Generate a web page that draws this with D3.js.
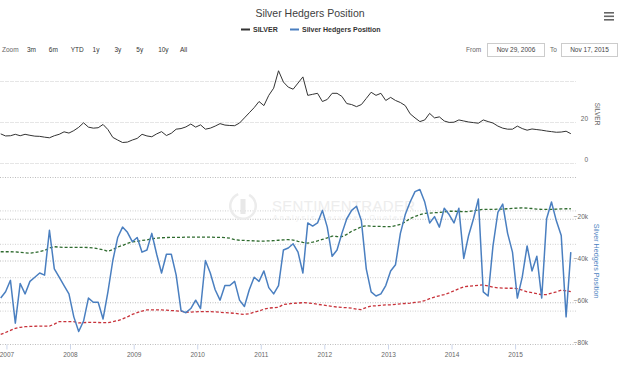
<!DOCTYPE html>
<html><head><meta charset="utf-8">
<script src="https://cdn.jsdelivr.net/npm/d3@7"></script>
<style>
body{margin:0;background:#fff;}
svg{display:block;font-family:"Liberation Sans",Arial,sans-serif;}
</style>
</head><body>
<svg id="c" width="620" height="365"></svg>
<script>
// ---------------- DATA ----------------
const startDate = "2006-11-29";
const endDate = "2015-11-17";
const stepDays = 28;

const silver = [
 14.2,13.2,13.3,14.0,13.3,14.0,13.5,13.1,13.0,12.6,
 12.3,13.3,14.0,15.2,14.6,15.8,17.4,19.6,17.5,17.0,
 17.2,18.8,16.3,12.5,11.2,10.0,10.2,11.2,12.0,14.0,
 13.2,12.8,14.2,15.3,13.4,14.5,16.5,16.8,17.6,19.0,
 17.5,18.6,16.5,17.0,18.0,19.2,18.5,18.3,18.2,19.5,
 22.0,24.5,27.0,30.0,28.0,33.0,36.5,45.0,39.5,37.0,
 36.0,39.0,42.0,33.0,33.5,34.0,30.0,31.0,34.0,34.0,
 32.5,29.0,28.5,27.5,28.5,31.5,34.5,33.0,34.0,30.5,
 32.0,30.5,29.5,28.0,24.0,22.0,20.2,21.0,24.2,22.0,
 22.5,20.5,19.8,19.9,21.0,20.5,20.0,19.7,19.4,21.0,
 20.2,19.5,18.0,17.0,16.5,16.5,18.0,16.8,16.0,16.6,
 16.3,16.0,15.6,15.3,15.0,15.1,15.5,14.3
];

const hedgers = [
 -58,-55,-49.5,-70,-51,-56,-50,-48,-46,-47,
 -25.5,-44,-48,-52,-56,-67,-74,-69,-58,-60,
 -60,-68,-55,-40,-29,-24,-26.5,-31,-29,-36,
 -35,-27,-37,-46,-37,-37,-47,-64,-65,-63,
 -59,-63,-40,-46,-54,-59,-52,-52,-50,-59,
 -62,-54,-48,-50,-45,-53,-56,-52,-35,-34,
 -32,-36,-46,-22,-23.5,-22,-16,-24,-38,-35,
 -27,-20,-16,-14,-21,-44,-55,-57,-56,-52,
 -45,-42,-27,-18,-12,-7,-6,-12,-22,-19,
 -24,-15,-18,-22,-15,-39,-28,-20,-10.5,-55,
 -57,-33,-17,-13,-27,-36,-58,-48,-33,-45,
 -38,-58,-20,-12,-21,-28,-67,-36
];

const upperBand = [
 -35.8,-35.8,-35.8,-35.9,-36.1,-36.3,-36.5,-36.2,-35.7,-35.2,
 -34.0,-33.4,-33.6,-33.7,-33.7,-33.7,-33.7,-33.7,-33.8,-34.0,
 -34.4,-34.8,-35.6,-34.8,-33.5,-32.8,-31.8,-31.1,-30.8,-30.4,
 -30.1,-29.6,-29.3,-29.1,-29.0,-28.9,-28.9,-28.9,-28.8,-28.8,
 -28.8,-28.8,-28.8,-28.8,-28.9,-28.9,-29.0,-29.3,-30.0,-30.3,
 -30.4,-30.5,-30.6,-30.7,-30.7,-30.6,-30.5,-30.3,-30.1,-30.0,
 -30.2,-30.8,-31.3,-31.7,-31.2,-30.6,-29.9,-29.2,-28.3,-28.5,
 -28.6,-27.5,-26.0,-25.0,-23.8,-23.4,-23.6,-23.7,-23.7,-23.8,
 -23.8,-23.3,-22.7,-21.5,-19.9,-18.9,-18.0,-17.4,-17.3,-17.1,
 -17.0,-16.7,-16.4,-16.4,-16.5,-16.6,-16.6,-16.2,-15.8,-15.5,
 -15.5,-15.5,-15.4,-15.4,-15.2,-15.0,-14.9,-14.8,-14.9,-15.1,
 -15.4,-15.5,-15.5,-15.5,-15.4,-15.3,-15.2,-15.2
];

const lowerBand = [
 -75.4,-74.5,-73.5,-72.5,-72.0,-71.7,-71.6,-71.5,-71.4,-71.4,
 -71.4,-70.5,-69.3,-69.3,-69.3,-69.3,-69.9,-69.8,-69.6,-69.6,
 -69.7,-69.8,-69.8,-69.3,-68.8,-68.0,-67.0,-65.8,-65.0,-64.2,
 -63.7,-63.7,-63.7,-63.7,-63.8,-64.0,-64.1,-64.3,-64.8,-64.7,
 -64.6,-64.5,-64.5,-64.5,-64.6,-64.8,-65.0,-65.1,-65.3,-65.6,
 -65.8,-65.5,-64.8,-64.2,-63.3,-62.8,-62.6,-62.4,-61.1,-60.8,
 -60.5,-60.4,-60.2,-60.3,-60.6,-61.0,-61.3,-61.6,-62.0,-62.3,
 -62.5,-62.6,-62.8,-63.3,-63.5,-62.5,-61.8,-61.7,-61.5,-61.3,
 -61.2,-61.0,-60.8,-60.6,-60.4,-60.1,-59.8,-59.2,-58.3,-57.5,
 -56.9,-56.3,-55.5,-54.5,-53.5,-52.6,-52.3,-52.1,-51.9,-51.7,
 -52.2,-52.8,-53.1,-53.2,-53.3,-53.3,-53.5,-54.2,-55.0,-55.4,
 -55.9,-56.4,-56.3,-55.6,-55.0,-54.2,-54.5,-54.9
];

const silverTicks = [0, 20, 40];
const silverLabelTicks = [0, 20];
const hedgerTicks = [-80, -60, -40, -20, 0];
const hedgerLabelTicks = [-80, -60, -40, -20];
const bandGridTicks = [1, 2, 3, 4];
const yearTicks = [2007, 2008, 2009, 2010, 2011, 2012, 2013, 2014, 2015];
const zoomButtons = ["3m", "6m", "YTD", "1y", "3y", "5y", "10y", "All"];
const fromLabel = "Nov 29, 2006";
const toLabel = "Nov 17, 2015";

// ---------------- CHART ----------------
const svg = d3.select("#c");
const parse = d3.timeParse("%Y-%m-%d");
const t0 = parse(startDate), t1 = parse(endDate);
const dates = silver.map((_, i) => i === silver.length - 1 ? t1 : d3.timeDay.offset(t0, i * stepDays));

const plotL = 0.7, plotR = 570.8, gridR = 576;
const x = d3.scaleTime().domain([t0, t1]).range([plotL, plotR]);
const ySil = d3.scaleLinear().domain([0, 40]).range([163, 81]);
const yHed = d3.scaleLinear().domain([-80, 0]).range([344, 177]);
const yBand = d3.scaleLinear().domain([0, 5]).range([344, 177]);

svg.append("rect").attr("width", 620).attr("height", 365).attr("fill", "#fff");

// Title & legend
svg.append("text").attr("x", 310).attr("y", 16.5).attr("text-anchor", "middle")
  .attr("font-size", 10.5).attr("fill", "#3e3e3e").text("Silver Hedgers Position");

const leg = svg.append("g").attr("font-size", 7).attr("font-weight", "bold").attr("fill", "#333");
leg.append("line").attr("x1", 241).attr("x2", 250).attr("y1", 29.5).attr("y2", 29.5).attr("stroke", "#333").attr("stroke-width", 2);
leg.append("text").attr("x", 253).attr("y", 32).text("SILVER");
leg.append("line").attr("x1", 290).attr("x2", 299).attr("y1", 29.5).attr("y2", 29.5).attr("stroke", "#4a7fc0").attr("stroke-width", 2);
leg.append("text").attr("x", 302).attr("y", 32).text("Silver Hedgers Position");

// hamburger
[0, 1, 2].forEach(k => svg.append("rect").attr("x", 604).attr("y", 12 + k * 3.5).attr("width", 10).attr("height", 1.6).attr("fill", "#666"));

// range selector
const rs = svg.append("g").attr("font-size", 6.5);
rs.append("text").attr("x", 2).attr("y", 52).attr("fill", "#666").text("Zoom");
const btnX = d3.scalePoint().domain(zoomButtons).range([27, 180]);
zoomButtons.forEach(b => rs.append("text").attr("x", btnX(b)).attr("y", 52).attr("fill", "#333").text(b));
rs.append("text").attr("x", 466).attr("y", 52).attr("fill", "#666").text("From");
rs.append("rect").attr("x", 487.5).attr("y", 43.5).attr("width", 57).attr("height", 13).attr("fill", "#fff").attr("stroke", "#ccc");
rs.append("text").attr("x", 516).attr("y", 52).attr("text-anchor", "middle").attr("fill", "#444").text(fromLabel);
rs.append("text").attr("x", 550).attr("y", 52).attr("fill", "#666").text("To");
rs.append("rect").attr("x", 561.5).attr("y", 43.5).attr("width", 56).attr("height", 13).attr("fill", "#fff").attr("stroke", "#ccc");
rs.append("text").attr("x", 589.5).attr("y", 52).attr("text-anchor", "middle").attr("fill", "#444").text(toLabel);

// Gridlines top
svg.append("g").selectAll("line").data(silverTicks).join("line")
  .attr("x1", 0).attr("x2", gridR).attr("y1", d => ySil(d) + 0.5).attr("y2", d => ySil(d) + 0.5)
  .attr("stroke", "#e6e6e6").attr("stroke-dasharray", "4,1");

// Gridlines bottom
svg.append("g").selectAll("line").data(hedgerTicks).join("line")
  .attr("x1", 0).attr("x2", gridR).attr("y1", d => yHed(d) + 0.5).attr("y2", d => yHed(d) + 0.5)
  .attr("stroke", "#bdbdbd").attr("stroke-dasharray", "1,1.5");
svg.append("g").selectAll("line").data(bandGridTicks).join("line")
  .attr("x1", 0).attr("x2", gridR).attr("y1", d => yBand(d) + 0.5).attr("y2", d => yBand(d) + 0.5)
  .attr("stroke", "#cfcfcf").attr("stroke-dasharray", "1,1.5");

// Watermark
const wm = svg.append("g");
wm.append("path").attr("d", d3.arc()({innerRadius: 11.5, outerRadius: 14, startAngle: 0.5, endAngle: 5.9}))
  .attr("transform", "translate(243,206)").attr("fill", "#ececec");
wm.append("rect").attr("x", 240.5).attr("y", 199).attr("width", 5).attr("height", 15).attr("fill", "#e8e8e8");
wm.append("text").attr("x", 272).attr("y", 211).attr("font-size", 15).attr("fill", "#ededed").attr("letter-spacing", 0.3).text("SENTIMENTRADER");
wm.append("text").attr("x", 273).attr("y", 220).attr("font-size", 7).attr("fill", "#efefef").attr("letter-spacing", 2.2).text("Analysis  Services  Quotes");

// X axis
const xAxis = d3.axisBottom(x)
  .tickValues(yearTicks.map(y => new Date(y, 0, 1)))
  .tickFormat(d3.timeFormat("%Y")).tickSize(5).tickPadding(3);
const gx = svg.append("g").attr("transform", "translate(0,344.5)").call(xAxis);
gx.select(".domain").remove();
gx.selectAll("line").attr("stroke", "#ccd6eb");
gx.selectAll("text").attr("font-size", 6.5).attr("fill", "#666").attr("font-family", "Liberation Sans, Arial, sans-serif");

// Right axes labels
svg.append("g").selectAll("text").data(silverLabelTicks).join("text")
  .attr("x", 588).attr("y", d => ySil(d) - 1).attr("text-anchor", "end")
  .attr("font-size", 6.5).attr("fill", "#666").text(d => d);
svg.append("g").selectAll("text").data(hedgerLabelTicks).join("text")
  .attr("x", 588).attr("y", d => yHed(d) + 0.5).attr("text-anchor", "end")
  .attr("font-size", 6.5).attr("fill", "#666").text(d => d3.format("d")(d) + "k");
svg.append("text").attr("transform", "translate(595,114) rotate(90)").attr("text-anchor", "middle")
  .attr("font-size", 6.5).attr("fill", "#666").text("SILVER");
svg.append("text").attr("transform", "translate(594,261) rotate(90)").attr("text-anchor", "middle")
  .attr("font-size", 7.2).attr("fill", "#4a7fc0").text("Silver Hedgers Position");

// Lines
const lineS = d3.line().x((d, i) => x(dates[i])).y(d => ySil(d));
const lineH = d3.line().x((d, i) => x(dates[i])).y(d => yHed(d));

svg.append("path").datum(upperBand).attr("d", lineH).attr("fill", "none")
  .attr("stroke", "#2f6b2f").attr("stroke-width", 1.3).attr("stroke-dasharray", "3,2");
svg.append("path").datum(lowerBand).attr("d", lineH).attr("fill", "none")
  .attr("stroke", "#c8323a").attr("stroke-width", 1.3).attr("stroke-dasharray", "3,2");
svg.append("path").datum(hedgers).attr("d", lineH).attr("fill", "none")
  .attr("stroke", "#4a7fc0").attr("stroke-width", 1.5).attr("stroke-linejoin", "round");
svg.append("path").datum(silver).attr("d", lineS).attr("fill", "none")
  .attr("stroke", "#333").attr("stroke-width", 1).attr("stroke-linejoin", "round");
</script>
</body></html>
